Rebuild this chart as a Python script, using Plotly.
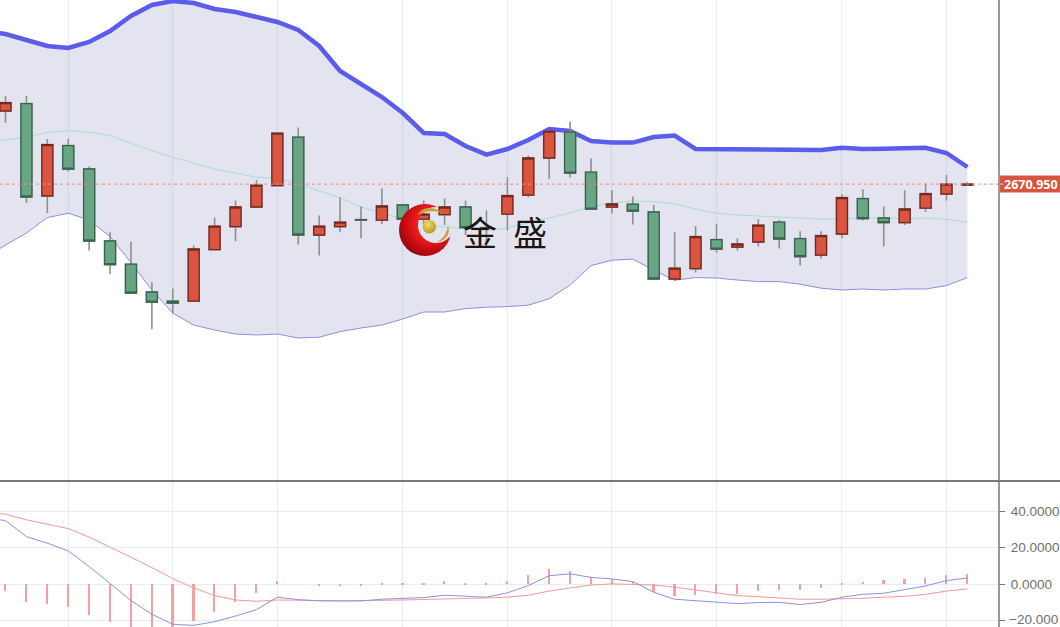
import base64
import plotly.graph_objects as go

# ---- data ----
candle_x = list(range(0, 47))
opens = [2707.5,2711.2,2665,2690.2,2678.5,2642.5,2630.9,2617,2612.4,2612.4,2638.2,2649.7,2659.5,2670.2,2694.4,2645.5,2649.7,2653.2,2652.9,2660.5,2653.4,2655.7,2659.5,2649.2,2655.9,2665.5,2684,2696.9,2676.9,2659.4,2660.9,2657,2623.5,2628.7,2643.2,2639.4,2642,2651.9,2643.7,2635.4,2646,2663.7,2654,2651.7,2658.9,2666,2670.5]
closes = [2711.7,2664.5,2690.7,2678.4,2642.5,2630.7,2616.4,2611.9,2611.4,2638.5,2649.9,2659.5,2670.4,2696.4,2645.5,2649.9,2651.9,2652.9,2660,2653.4,2655.9,2659.5,2649.2,2648.9,2665.2,2684,2697.4,2676.4,2658.4,2661,2657.4,2623.5,2628.9,2644.7,2638.4,2641,2650.4,2643.5,2634.7,2645.2,2664.2,2653.7,2651.7,2658.5,2666.2,2670.9,2670.95]
highs = [2715,2715,2693.5,2693.5,2679.7,2646.9,2642.2,2621.9,2618.7,2640.2,2654.2,2662.7,2673,2696.4,2699.2,2655.2,2664.4,2659.7,2668.9,2661,2662.7,2663.7,2662.7,2657.7,2674.4,2685.2,2697.7,2702.2,2683.7,2667.9,2664.7,2660.5,2646.9,2650,2651,2643.9,2653.5,2653,2647.4,2647.4,2665.9,2668.4,2659.7,2667.9,2671.2,2675.5,2671.9]
lows = [2701.5,2661.5,2656.5,2677.2,2637.7,2626,2616.4,2598.4,2606.4,2612.4,2637.9,2642.4,2659.5,2670.2,2640.7,2635.2,2646.9,2643.9,2651,2653.4,2650,2650.5,2645.5,2639.5,2647.7,2664.4,2673.5,2674.2,2658,2656.2,2650.7,2623.2,2622.5,2626.7,2636.7,2637.7,2639.7,2638.7,2630.2,2633.7,2643.9,2652.7,2639.9,2650.5,2657,2662.7,2670.2]

band_x = list(range(-1, 47))
boll_upper = [2747.5,2746,2743,2740,2739,2742,2747.5,2755,2760.5,2762.5,2761.5,2758.5,2757,2754.5,2752,2748,2740,2727.5,2721,2714.5,2706.5,2696.5,2696,2690,2685.7,2688.5,2693,2698.5,2697.5,2692.5,2691.7,2691.7,2694.5,2695.2,2688.5,2688.5,2688.5,2688.5,2688.5,2688.5,2688,2689.1,2688.5,2688.6,2689,2689.1,2686.5,2679.5]
boll_mid = [2692.5,2693,2694.4,2696.7,2697.7,2696.9,2695.2,2691.4,2687.7,2684.4,2681.4,2678.5,2676.4,2674.4,2673.9,2671.4,2667.5,2664.2,2659.5,2656.5,2653.5,2651,2649.5,2648.5,2647.5,2649,2651.5,2654,2656.5,2659.5,2661.5,2662.5,2662.2,2661,2658.5,2656.4,2655.5,2655,2654.4,2653.9,2653.4,2653.7,2654,2654,2653.7,2653.9,2653.4,2651.9]
boll_lower = [2634,2640.5,2646.5,2654.2,2656.4,2653,2644.7,2631.7,2618,2606.4,2600.5,2598,2596,2595.5,2596,2594,2594.4,2597.2,2599,2600.5,2603.5,2607,2607,2608.7,2609.4,2609.7,2610.4,2613.7,2620.5,2630.2,2632.9,2633.4,2628,2622.9,2624.2,2624,2623,2622.2,2622.2,2620.9,2618.9,2618,2618.5,2618,2618.5,2618.5,2620.2,2624.2]

macd_dif = [36.2,34.9,26.1,22.5,18.3,9.7,0.5,-8.9,-16.4,-21.9,-22.5,-20.5,-17.4,-13.9,-7.1,-8.4,-9.1,-9.1,-9.1,-8.2,-7.7,-7.3,-6,-6.6,-7.1,-4.7,-0.7,4.7,5.7,3.8,2.9,1.5,-4.4,-8.2,-8.9,-10,-10.6,-10,-9.9,-11.1,-9.9,-7.1,-5.5,-4.9,-3.1,-0.9,2,3.5]
macd_dea = [38.9,38.4,35.3,33.1,30.5,25.8,20.5,14.8,9.1,3.1,-2,-6.2,-8.6,-9.3,-8.6,-8.6,-8.9,-9.1,-9.1,-8.8,-8.6,-8.4,-7.9,-7.7,-7.5,-7.1,-6,-3.7,-2,-0.4,0.2,0,-0.4,-1.6,-3.1,-4.9,-6.2,-6.8,-7.3,-8.2,-8.2,-8,-7.7,-7.1,-6.6,-5.5,-3.7,-2.6]
macd_hist = [-3.7,-9.7,-10.8,-12.4,-16.8,-20.8,-25,-25,-25,-20.3,-15.3,-9.5,-4.6,1.6,0,-0.5,-0.7,-0.7,0.5,0.5,0.9,1.6,0.4,0.5,1.6,4.9,8.2,7.1,4,2.7,1.1,-4.4,-6.2,-5.8,-5.5,-5.3,-3.7,-3.1,-3.1,-2.2,0.9,1.5,2.2,2.7,3.7,4.9,5.5]

grid_positions = [3, 8, 13, 19, 24, 29, 34, 40, 45]
last_price = 2670.95
last_label = "2670.950"
macd_ticks = [40, 20, 0, -20]
macd_tick_text = ["40.0000", "20.0000", "0.0000", ""]
macd_bottom_label = "\u221220.000"
brand_chars = ["金", "盛"]

# ---- geometry of the page ----
W, H = 1060, 627
AXIS_X = 999
x_range = [-0.263, 47.51]
price_range = [2522.5, 2763]
macd_range = [-23.4, 56]
SPLIT = 481

RED, RED_DARK = "#da5440", "#76281f"
GREEN, GREEN_DARK = "#69a585", "#36654e"
GRID = "#e6edf3"
TICK_FONT = dict(color="#6f6f6f", size=13.5, family="Liberation Sans, Arial, sans-serif")

logo_svg = """<svg xmlns='http://www.w3.org/2000/svg' viewBox='0 0 52 52'>
<defs>
<radialGradient id='r' cx='0.62' cy='0.38' r='0.7'><stop offset='0.4' stop-color='#ee2020'/><stop offset='0.72' stop-color='#c80a12'/><stop offset='1' stop-color='#850a10'/></radialGradient>
<radialGradient id='g' cx='0.4' cy='0.35' r='0.7'><stop offset='0' stop-color='#f2dc6a'/><stop offset='1' stop-color='#b8961c'/></radialGradient>
<mask id='m'><rect width='52' height='52' fill='white'/><circle cx='37' cy='21' r='18' fill='black'/></mask>
</defs>
<circle cx='26' cy='26' r='26' fill='url(#r)' mask='url(#m)'/>
<circle cx='30.3' cy='22.7' r='6.8' fill='url(#g)'/>
<path d='M19 11 C22 3 35 1 43 9 C35 6 26 7 19 11 Z' fill='#c4a53e'/>
<path d='M38 38 C44 35 48 29 49 21 C52 30 47 37 38 38 Z' fill='#c4a53e'/>
</svg>"""
logo_uri = "data:image/svg+xml;base64," + base64.b64encode(logo_svg.encode()).decode()

fig = go.Figure()

# Bollinger band
fig.add_trace(go.Scatter(x=band_x, y=boll_upper, mode="lines", line=dict(color="#5b5cec", width=4.5),
                         xaxis="x", yaxis="y", showlegend=False))
fig.add_trace(go.Scatter(x=band_x, y=boll_lower, mode="lines", line=dict(color="#8d8de4", width=1),
                         fill="tonexty", fillcolor="rgba(120,120,185,0.2)",
                         xaxis="x", yaxis="y", showlegend=False))
fig.add_trace(go.Scatter(x=band_x, y=boll_mid, mode="lines", line=dict(color="#a5e0cb", width=1),
                         xaxis="x", yaxis="y", showlegend=False))

# candles live on an overlaying subplot so they sit above the band fill
wick = dict(line=dict(color="#8f8f8f", width=1.6), fillcolor="rgba(0,0,0,0)")
fig.add_trace(go.Candlestick(x=candle_x, open=opens, high=highs, low=lows, close=closes,
                             increasing=wick, decreasing=wick, whiskerwidth=0,
                             xaxis="x3", yaxis="y3", showlegend=False))
body_hi = [max(a, b) for a, b in zip(opens, closes)]
body_lo = [min(a, b) for a, b in zip(opens, closes)]
fig.add_trace(go.Candlestick(x=candle_x, open=opens, high=body_hi, low=body_lo, close=closes,
                             increasing=dict(line=dict(color=RED_DARK, width=1.3), fillcolor=RED),
                             decreasing=dict(line=dict(color=GREEN_DARK, width=1.3), fillcolor=GREEN),
                             whiskerwidth=0, xaxis="x3", yaxis="y3", showlegend=False))

# MACD panel
fig.add_trace(go.Bar(x=candle_x, y=macd_hist, width=0.08, marker=dict(color="#f3a0a0", line=dict(width=0)),
                     xaxis="x2", yaxis="y2", showlegend=False))
fig.add_trace(go.Scatter(x=band_x, y=macd_dea, mode="lines", line=dict(color="#f09a9a", width=1),
                         xaxis="x2", yaxis="y2", showlegend=False))
fig.add_trace(go.Scatter(x=band_x, y=macd_dif, mode="lines", line=dict(color="#9090e0", width=1),
                         xaxis="x2", yaxis="y2", showlegend=False))

shapes = [
    dict(type="rect", xref="paper", yref="paper", x0=1.001, x1=W / AXIS_X, y0=1 - 192.5 / H, y1=1 - 175.5 / H,
         fillcolor="#d9543f", line=dict(width=0)),
    dict(type="line", xref="paper", yref="y", x0=1.0, x1=1.0045, y0=last_price, y1=last_price,
         line=dict(color="rgba(255,255,255,0.7)", width=1)),
    dict(type="line", xref="paper", yref="y", x0=0, x1=1, y0=last_price, y1=last_price,
         line=dict(color="#ea8c7c", width=1, dash="dot")),
    dict(type="line", xref="paper", yref="paper", x0=0, x1=W / AXIS_X, y0=1 - SPLIT / H, y1=1 - SPLIT / H,
         line=dict(color="#4a4a50", width=1.5)),
    dict(type="line", xref="paper", yref="paper", x0=1, x1=1, y0=0, y1=1,
         line=dict(color="#777777", width=1.5)),
]

brand_notes = [dict(text=ch, xref="paper", yref="paper", x=cx / AXIS_X, y=1 - 231 / H, xanchor="center",
                    yanchor="middle", showarrow=False,
                    font=dict(color="#1b1513", size=34, family="Noto Sans CJK SC"))
               for ch, cx in zip(brand_chars, [479.5, 529.5])]

fig.update_layout(
    width=W, height=H, autosize=False,
    margin=dict(l=0, r=W - AXIS_X, t=0, b=0, pad=0),
    paper_bgcolor="white", plot_bgcolor="white",
    showlegend=False, boxgap=0.25, bargap=0, hovermode=False,
    font=dict(family="Liberation Sans, Arial, sans-serif"),
    xaxis=dict(domain=[0, 1], range=x_range, tickvals=grid_positions,
               showticklabels=False, showgrid=True, gridcolor=GRID, gridwidth=1, zeroline=False,
               ticks="", anchor="y", showline=False),
    yaxis=dict(domain=[1 - SPLIT / H, 1], range=price_range, showgrid=False, zeroline=False,
               showticklabels=False, ticks="", side="right", anchor="x"),
    xaxis3=dict(domain=[0, 1], range=x_range, overlaying="x", rangeslider=dict(visible=False),
                visible=False, anchor="y3"),
    yaxis3=dict(domain=[1 - SPLIT / H, 1], range=price_range, overlaying="y", visible=False,
                side="right", anchor="x3"),
    xaxis2=dict(domain=[0, 1], range=x_range, tickvals=grid_positions, showticklabels=False, showgrid=True,
                gridcolor=GRID, gridwidth=1, zeroline=False, ticks="", anchor="y2", showline=False),
    yaxis2=dict(domain=[0, 1 - (SPLIT + 1) / H], range=macd_range, tickvals=macd_ticks, ticktext=macd_tick_text,
                side="right", anchor="x2", showgrid=True, gridcolor=GRID, gridwidth=1, zeroline=False,
                ticks="outside", ticklen=5, tickwidth=1, tickcolor="#777777", ticklabelstandoff=3,
                ticklabeloverflow="allow", tickfont=TICK_FONT),
    shapes=shapes,
    images=[dict(source=logo_uri, xref="paper", yref="paper", x=399 / AXIS_X, y=1 - 204 / H,
                 sizex=52 / AXIS_X, sizey=52 / H, xanchor="left", yanchor="top", sizing="stretch",
                 layer="above", opacity=1)],
    annotations=[
        dict(text="<b>" + last_label + "</b>", xref="paper", yref="y", x=1004 / AXIS_X, y=last_price, xanchor="left",
             yanchor="middle", showarrow=False, borderpad=0, borderwidth=0, width=55,
             font=dict(color="white", size=12.5, family="Open Sans, Liberation Sans, sans-serif"),
             align="left"),
        dict(text=macd_bottom_label, xref="paper", yref="paper", x=1009 / AXIS_X, y=0, xanchor="left",
             yanchor="bottom", showarrow=False, borderpad=0, borderwidth=0, font=TICK_FONT, align="left"),
    ] + brand_notes,
)

clip_js = """
document.body.style.margin = '0';
document.body.style.overflow = 'hidden';
"""
fig.write_html("out.html", config=dict(displayModeBar=False), post_script=clip_js)
